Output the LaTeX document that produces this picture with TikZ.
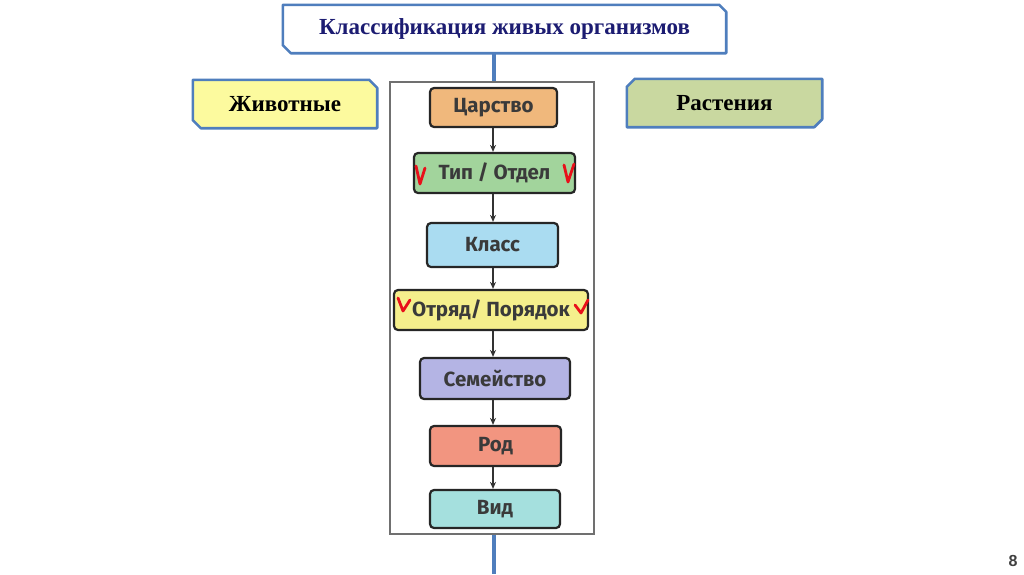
\documentclass[tikz,border=0pt]{standalone}
\usepackage{fontspec}
\setmainfont{Liberation Serif}
\newfontfamily\handfont{Fira Sans}
\newfontfamily\numfont{Liberation Sans}
\usetikzlibrary{arrows.meta}
\definecolor{bordblue}{HTML}{4F7EBD}
\definecolor{titlenavy}{HTML}{1C1C72}
\definecolor{animalfill}{HTML}{FCFA9E}
\definecolor{plantfill}{HTML}{C9D8A0}
\definecolor{framegray}{HTML}{707070}
\definecolor{handtext}{HTML}{3A3A3A}
\definecolor{cOrange}{HTML}{F0B87C}
\definecolor{cGreen}{HTML}{A2D49C}
\definecolor{cBlue}{HTML}{AADCF1}
\definecolor{cYellow}{HTML}{F5EF8C}
\definecolor{cLav}{HTML}{B4B4E4}
\definecolor{cSalmon}{HTML}{F29580}
\definecolor{cTeal}{HTML}{A5E0DE}
\definecolor{checkred}{HTML}{E8101A}
\begin{document}
\begin{tikzpicture}[x=1pt,y=-1pt,
  bluebord/.style={draw=bordblue,line width=2.6pt,line join=round},
  lbltext/.style={font=\fontsize{23}{26}\selectfont\bfseries,inner sep=0pt},
  handbox/.style={draw=black!85,line width=2.2pt,rounded corners=4pt,
     font=\handfont\bfseries\fontsize{20.5}{24}\selectfont,text=handtext,inner sep=0pt},
  flowarrow/.style={draw=black!80,line width=1.4pt,-{Stealth[length=7pt,width=6pt]}},
  blueline/.style={draw=bordblue,line width=3.6pt},
  checkmark/.style={draw=checkred,line width=2.8pt,line cap=round,line join=round}]
\useasboundingbox (0,0) rectangle (1024,574);
\fill[white] (0,0) rectangle (1024,574);

% title box
\node[minimum width=443pt,minimum height=48pt,inner sep=0pt] (title) at (504.5,29) {};
\draw[bluebord,fill=white] (title.north west) -- ([xshift=-7pt]title.north east) -- ([yshift=-7pt]title.north east)
  -- (title.south east) -- ([xshift=8pt]title.south west) -- ([yshift=8pt]title.south west) -- cycle;
\node[lbltext,text=titlenavy] at (title.center) {Классификация живых организмов};

% animals box
\node[minimum width=184pt,minimum height=48pt,inner sep=0pt] (animals) at (285,104) {};
\draw[bluebord,fill=animalfill] (animals.north west) -- ([xshift=-8pt]animals.north east) -- ([yshift=-8pt]animals.north east)
  -- (animals.south east) -- ([xshift=8pt]animals.south west) -- ([yshift=8pt]animals.south west) -- cycle;
\node[lbltext] at (animals.center) {Животные};

% plants box
\node[minimum width=195pt,minimum height=48pt,inner sep=0pt] (plants) at (724.5,103) {};
\draw[bluebord,fill=plantfill] ([xshift=8pt]plants.north west) -- (plants.north east) -- ([yshift=8pt]plants.south east)
  -- ([xshift=-8pt]plants.south east) -- (plants.south west) -- ([yshift=-8pt]plants.north west) -- cycle;
\node[lbltext] at (plants.center) {Растения};

% frame
\node[draw=framegray,line width=1.4pt,fill=white,minimum width=204pt,minimum height=452pt,inner sep=0pt] (frame) at (492,308) {};
\coordinate (bottomend) at (494,574);
\draw[blueline] (title.south -| 494,0) -- (frame.north -| 494,0);
\draw[blueline] (frame.south -| 494,0) -- (bottomend);

% hand-drawn boxes
\node[handbox,fill=cOrange,minimum width=127pt,minimum height=39pt] (tsar) at (493.5,107.5) {Царство};
\node[handbox,fill=cGreen,minimum width=161pt,minimum height=40pt] (tip) at (494.5,173) {Тип / Отдел};
\node[handbox,fill=cBlue,minimum width=131pt,minimum height=44pt] (klass) at (492.5,245) {Класс};
\node[handbox,fill=cYellow,minimum width=194pt,minimum height=40pt] (otr) at (491,310) {Отряд/ Порядок};
\node[handbox,fill=cLav,minimum width=150pt,minimum height=41pt] (sem) at (495,378.5) {Семейство};
\node[handbox,fill=cSalmon,minimum width=131pt,minimum height=40pt] (rod) at (495.5,446) {Род};
\node[handbox,fill=cTeal,minimum width=130pt,minimum height=38pt] (vid) at (495,509) {Вид};

\draw[flowarrow] (tsar.south -| 493,0) -- (tip.north -| 493,0);
\draw[flowarrow] (tip.south -| 493,0) -- (klass.north -| 493,0);
\draw[flowarrow] (klass.south -| 493,0) -- (otr.north -| 493,0);
\draw[flowarrow] (otr.south -| 493,0) -- (sem.north -| 493,0);
\draw[flowarrow] (sem.south -| 493,0) -- (rod.north -| 493,0);
\draw[flowarrow] (rod.south -| 493,0) -- (vid.north -| 493,0);

% red check marks
\draw[checkmark] (416,166) -- (420,184) -- (425,168);
\draw[checkmark] (564,165) -- (568,182) -- (574,164);
\draw[checkmark] (398,298) -- (403,311) -- (410,300);
\draw[checkmark] (575,305) -- (581,313) -- (588,300);

% page number
\node[font=\numfont\bfseries\fontsize{16}{18}\selectfont,text=black!75,inner sep=0pt] (pnum) at (1013,561) {8};
\end{tikzpicture}
\end{document}
